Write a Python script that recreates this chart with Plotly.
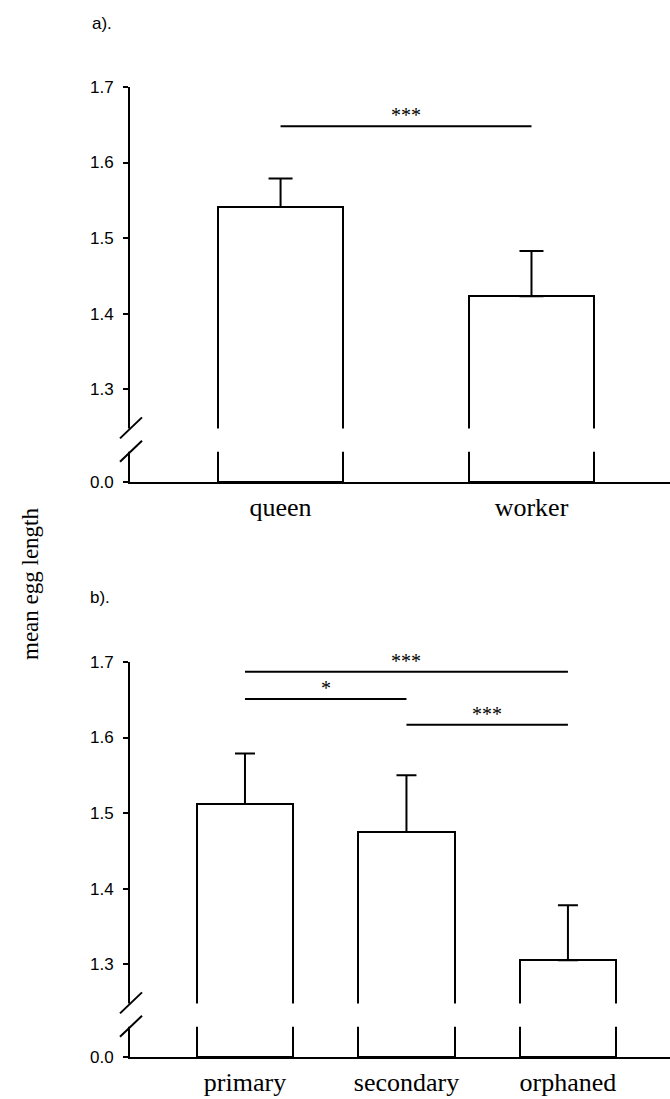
import plotly.graph_objects as go

# ---------------- data ----------------
cats_a = ["queen", "worker"]
means_a = [1.541, 1.423]
err_a = [0.038, 0.060]

cats_b = ["primary", "secondary", "orphaned"]
means_b = [1.512, 1.475, 1.305]
err_b = [0.067, 0.075, 0.073]

# significance comparisons: (index i, index j, height, label)
sig_a_pairs = [(0, 1)]
sig_a_heights = [1.648]
sig_a_labels = ["***"]

sig_b_pairs = [(0, 2), (0, 1), (1, 2)]
sig_b_heights = [1.687, 1.651, 1.617]
sig_b_labels = ["***", "*", "***"]

ytick_vals = [1.3, 1.4, 1.5, 1.6, 1.7]
ytick_text = ["1.3", "1.4", "1.5", "1.6", "1.7"]

# ---------------- layout constants ----------------
Y0 = 1.177          # broken-axis position of "0.0"
YTOP = 1.7
BREAK_LO, BREAK_HI = 1.217, 1.248
SERIF = "Liberation Serif, Times New Roman, serif"
SANS = "Liberation Sans, Arial, sans-serif"

W, H = 670, 1099
fig = go.Figure()


def add_panel(cats, means, errs, pairs, heights, labels, xa, ya, width, capw):
    pos = list(range(len(cats)))
    fig.add_trace(go.Bar(
        x=pos, y=[m - Y0 for m in means], base=Y0, width=width,
        marker=dict(color="white", line=dict(color="black", width=2)),
        error_y=dict(type="data", symmetric=False, array=errs,
                     arrayminus=[0] * len(errs), color="black",
                     thickness=2, width=capw),
        xaxis=xa, yaxis=ya, showlegend=False, hoverinfo="skip"))
    for (i, j), h, lab in zip(pairs, heights, labels):
        fig.add_trace(go.Scatter(
            x=[pos[i], pos[j]], y=[h, h], mode="lines",
            line=dict(color="black", width=2),
            xaxis=xa, yaxis=ya, showlegend=False, hoverinfo="skip"))
        fig.add_annotation(x=(pos[i] + pos[j]) / 2, y=h, text=lab,
                           xref=xa, yref=ya, showarrow=False,
                           xanchor="center", yanchor="bottom", yshift=-2,
                           font=dict(family=SERIF, size=20, color="black"))
    # break: white band + slashes
    fig.add_shape(type="rect", xref=f"{xa} domain", yref=ya,
                  x0=-0.01, x1=1.0, y0=BREAK_LO, y1=BREAK_HI,
                  fillcolor="white", line=dict(width=0), layer="above")
    for yb in (BREAK_LO, BREAK_HI):
        fig.add_shape(type="line", xref=f"{xa} domain", yref=ya,
                      xsizemode="pixel", ysizemode="pixel",
                      xanchor=0, yanchor=yb,
                      x0=-10, x1=12, y0=-10, y1=11,
                      line=dict(color="black", width=2), layer="above")
    return pos


pos_a = add_panel(cats_a, means_a, err_a, sig_a_pairs, sig_a_heights,
                  sig_a_labels, "x", "y", 0.5, 12)
pos_b = add_panel(cats_b, means_b, err_b, sig_b_pairs, sig_b_heights,
                  sig_b_labels, "x2", "y2", 0.6, 10)

common_x = dict(showline=True, linecolor="black", linewidth=2, ticks="",
                showgrid=False, zeroline=False, automargin=False,
                tickfont=dict(family=SERIF, size=26, color="black"),
                ticklabelstandoff=1, domain=[0, 1])
common_y = dict(showline=True, linecolor="black", linewidth=2, ticks="outside",
                ticklen=5, tickwidth=2, tickcolor="black", showgrid=False,
                zeroline=False, range=[Y0, YTOP], automargin=False,
                tickvals=[Y0] + ytick_vals, ticktext=["0.0"] + ytick_text,
                tickfont=dict(family=SANS, size=17, color="black"),
                ticklabelstandoff=6)

fig.update_layout(
    width=W, height=H, margin=dict(l=130, r=0, t=0, b=0, pad=0),
    paper_bgcolor="white", plot_bgcolor="white", bargap=0,
    xaxis=dict(common_x, anchor="y", range=[-0.6, 1.552],
               tickvals=pos_a, ticktext=cats_a),
    yaxis=dict(common_y, anchor="x", domain=[1 - 482 / H, 1 - 87 / H]),
    xaxis2=dict(common_x, anchor="y2", range=[-0.712, 2.632],
                tickvals=pos_b, ticktext=cats_b),
    yaxis2=dict(common_y, anchor="x2", domain=[1 - 1057 / H, 1 - 662 / H]),
)

fig.add_annotation(text="a).", xref="paper", yref="paper",
                   x=(102 - 130) / 540, y=1 - 23 / H, showarrow=False,
                   xanchor="center", yanchor="middle",
                   font=dict(family=SANS, size=17, color="black"))
fig.add_annotation(text="b).", xref="paper", yref="paper",
                   x=(100 - 130) / 540, y=1 - 597 / H, showarrow=False,
                   xanchor="center", yanchor="middle",
                   font=dict(family=SANS, size=17, color="black"))
fig.add_annotation(text="mean egg length", xref="paper", yref="paper",
                   x=(30 - 130) / 540, y=1 - 584 / H, showarrow=False,
                   xanchor="center", yanchor="middle", textangle=-90,
                   font=dict(family=SERIF, size=23, color="black"))

fig.write_html("out.html")
